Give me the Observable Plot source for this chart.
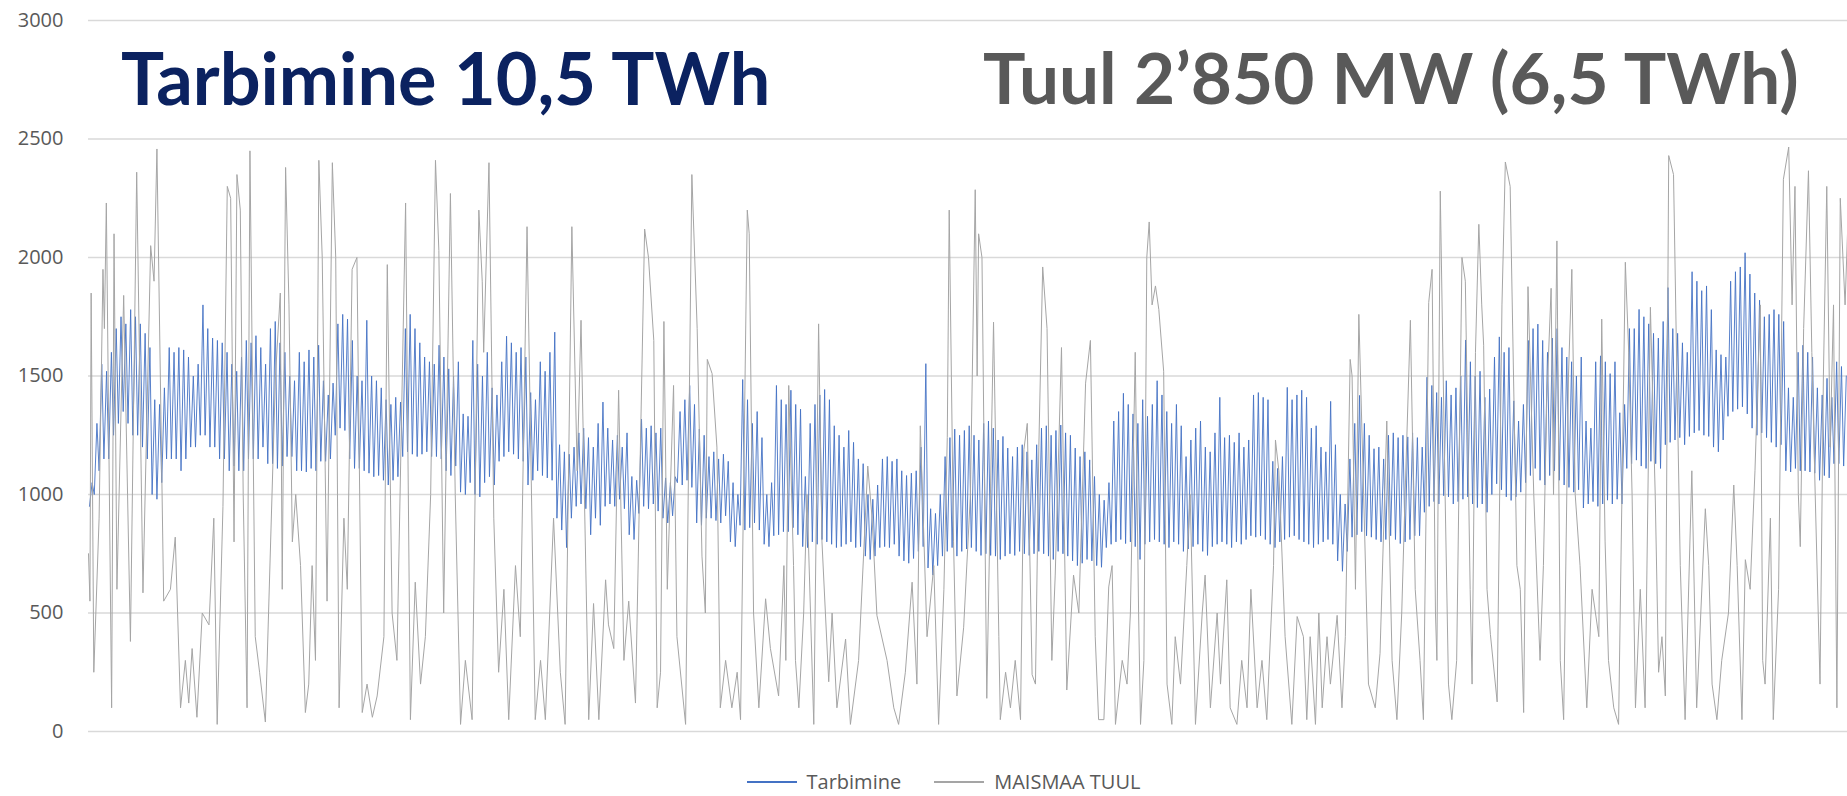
<!DOCTYPE html>
<html><head><meta charset="utf-8">
<script src="https://cdn.jsdelivr.net/npm/d3@7"></script>
<script src="https://cdn.jsdelivr.net/npm/@observablehq/plot@0.6"></script>
<style>
html,body{margin:0;padding:0;background:#fff;}
#wrap{position:relative;width:1847px;height:796px;overflow:hidden;font-family:"Open Sans",sans-serif;}
.title{position:absolute;font-family:Lato,sans-serif;font-weight:700;font-size:72px;white-space:nowrap;line-height:72px;}
#legend{position:absolute;left:0;top:768px;width:1847px;display:flex;justify-content:center;align-items:center;font-size:20px;color:#595959;padding-left:40px;box-sizing:border-box;}
.sw{display:inline-block;width:50px;height:0;border-top:2px solid;margin-right:10px;}
</style></head>
<body><div id="wrap"></div>
<script>
const yTicks = [0, 500, 1000, 1500, 2000, 2500, 3000];
const titleLeft = "Tarbimine 10,5 TWh";
const titleRight = "Tuul 2’850 MW (6,5 TWh)";
const seriesNames = ["Tarbimine", "MAISMAA TUUL"];

// Daily night minimum / day maximum of consumption, MW (day 0..364)
const consLow = [
950,1000,1100,1150,1150,1250,1300,1350,1300,1250,
1250,1200,1150,1000,980,1050,1150,1150,1150,1100,
1150,1200,1200,1250,1250,1200,1200,1150,1150,1100,
1120,1100,1100,1150,1150,1150,1200,1130,1130,1110,
1120,1160,1160,1100,1100,1095,1110,1100,1140,1140,
1150,1250,1280,1270,1150,1110,1110,1100,1090,1075,
1080,1060,1040,1060,1075,1160,1180,1170,1160,1170,
1180,1160,1160,1150,1100,1080,1120,1010,1000,1050,
1000,990,1050,1075,1040,1140,1160,1180,1170,1150,
1140,1040,1060,1100,1080,1070,1060,900,850,776,
900,950,960,940,830,900,870,950,960,950,
980,940,830,810,920,950,940,960,930,900,
880,910,1050,1040,1060,1030,880,870,900,900,
890,880,910,800,780,870,850,860,880,850,
790,780,826,830,843,843,860,830,780,776,
800,790,810,800,790,776,780,790,800,776,
780,740,726,740,776,780,776,790,740,720,
710,730,760,780,690,660,700,740,760,776,
740,760,770,776,760,743,750,743,740,726,
740,750,743,760,750,743,750,760,750,740,
726,760,750,740,720,700,710,726,720,700,
693,776,790,800,810,793,800,780,726,790,
800,810,800,790,776,800,790,760,770,780,
790,760,743,780,790,800,790,776,800,790,
810,826,820,826,810,790,776,800,810,820,
826,810,800,790,776,790,800,810,790,720,
676,760,820,830,843,826,820,810,800,810,
826,810,793,800,810,826,826,925,950,970,
960,995,990,960,970,980,990,960,945,960,
925,1000,1045,1020,990,975,990,1010,1050,1080,
1110,1060,1040,1080,1100,1060,1040,1030,1010,1020,
943,960,970,950,960,976,960,980,960,1110,
1130,1145,1120,1110,1140,1130,1110,1210,1220,1230,
1240,1210,1245,1260,1270,1250,1245,1200,1180,1230,
1330,1350,1360,1370,1340,1280,1250,1260,1240,1220,
1200,1210,1100,1095,1110,1100,1100,1095,1090,1060,
1080,1070,1130,1130,1120];
const consHigh = [
1050,1300,1550,1520,1600,1700,1750,1720,1780,1750,
1720,1680,1620,1400,1380,1450,1620,1600,1620,1610,
1580,1500,1550,1800,1700,1660,1650,1640,1600,1550,
1520,1580,1650,1640,1670,1620,1550,1700,1730,1640,
1600,1500,1480,1600,1560,1610,1580,1630,1480,1420,
1470,1720,1760,1740,1650,1500,1480,1735,1500,1480,
1450,1400,1380,1410,1390,1700,1760,1700,1640,1580,
1560,1550,1630,1580,1530,1500,1560,1340,1330,1650,
1550,1500,1600,1450,1420,1560,1668,1640,1600,1620,
1580,1430,1400,1560,1520,1600,1685,1210,1180,1170,
1200,1260,1280,1240,1200,1300,1390,1280,1230,1250,
1200,1260,1076,1060,1318,1280,1290,1260,1280,1070,
1050,1075,1350,1400,1460,1380,1276,1250,1160,1180,
1150,1170,1140,1050,1000,1485,1400,1300,1350,1240,
1000,1050,1460,1400,1380,1440,1380,1360,1076,1300,
1380,1420,1443,1400,1290,1250,1200,1270,1220,1150,
1130,1000,980,1040,1150,1160,1140,1150,1100,1080,
1090,1100,1200,1552,940,920,1000,1160,1240,1276,
1250,1270,1290,1250,1230,1300,1310,1280,1230,1245,
1196,1160,1200,1210,1180,1146,1210,1280,1290,1250,
1270,1293,1260,1250,1196,1160,1180,1146,1076,1000,
976,1050,1310,1350,1427,1380,1340,1300,1400,1330,
1380,1480,1420,1350,1300,1380,1290,1160,1230,1280,
1310,1200,1180,1260,1410,1240,1250,1220,1260,1200,
1230,1420,1430,1410,1400,1140,1110,1160,1452,1400,
1420,1440,1410,1280,1290,1200,1180,1393,1210,1000,
960,1150,1300,1418,1300,1250,1193,1200,1150,1250,
1260,1240,1250,1243,1260,1240,1200,1495,1460,1430,
1410,1480,1420,1450,1500,1652,1560,1500,1520,1410,
1445,1580,1665,1600,1620,1395,1310,1380,1650,1700,
1719,1650,1600,1660,1700,1620,1580,1560,1500,1580,
1310,1280,1560,1585,1560,1510,1560,1345,1380,1700,
1700,1781,1750,1720,1680,1660,1730,1873,1700,1680,
1640,1600,1940,1900,1860,1880,1780,1610,1590,1580,
1900,1940,1960,2020,1930,1850,1820,1750,1760,1780,
1760,1730,1450,1410,1600,1630,1600,1580,1450,1420,
1490,1410,1560,1540,1500];

// Onshore wind: turning points (day of year, MW)
const windDay = [0,0.3,0.55,1.1,2.2,3,3.3,3.7,4.8,5.3,5.9,7.3,8.7,10,11.3,12.9,13.6,14.2,15.6,17,18,19.1,20.1,20.8,21.5,22.5,23.6,25,26,26.7,27.9,28.8,29.5,30.2,30.8,31.5,32.1,32.9,33.5,34.6,35.5,36.7,38.8,39.8,40.2,40.9,41.6,42.3,43,44,45,45.7,46.4,47.1,47.8,48.5,49.5,50.6,51.3,52,53,53.7,54.7,55.7,56.8,57.8,58.9,59.9,61.3,62,63,64,65.8,66.8,67.8,68.9,69.9,71,72,72.7,73.7,75.1,76.1,77.2,78.2,79.6,81,81.7,82,83.1,84.1,85.1,86.2,87.2,88.6,89.6,91,92.7,93.8,94.8,96.5,97.9,98.9,100.3,101.4,102.2,103.8,104.8,105.9,107.3,107.9,109,110,111.1,112.1,113.5,115.4,116.2,117.3,118,118.7,119.4,120.1,121.4,122.1,123.9,125.2,126.3,127.3,128,128.4,129.4,130.4,131.1,132.2,133.5,134.6,135.3,136.7,137.1,138,139.1,140.5,141.5,143.2,144.3,144.7,145.3,146.3,146.7,147.4,148.4,149.1,150.5,151.5,152.2,153.6,154.3,155.3,157.1,158.1,159.8,161.7,162.6,163.6,165.7,167.1,168.1,169.5,170.9,171.9,172.6,174,175.4,176.4,177.5,178.2,178.6,179.5,180.2,181.6,183,184,184.4,184.7,185.4,186.4,187.8,188.9,189.2,190.3,191.3,192.3,193.4,194.1,194.8,195.8,196.5,197.2,198,198.9,199.9,200.6,201.9,203,204.4,205.5,206.9,207.9,208.9,209.6,210.7,211.7,212.4,213.1,214.5,215.5,216.2,217.2,217.9,218.3,219,219.6,220.1,220.7,221.4,222.1,223.1,223.8,224.8,225.5,226.6,227.9,228.6,229.7,231.1,231.7,232.8,234.2,234.9,236.2,236.9,238.3,239.3,240.4,241.2,242.5,243.5,244.5,245.9,246.3,247,248.3,249.7,250.8,252.1,252.8,253.5,254.6,255.3,256,257,257.7,259.1,260.1,260.8,261.8,262.2,262.9,263.6,264.6,265.6,267,268,269.4,270.5,271.5,272.5,273.2,274.3,275.3,276.3,277,278.1,278.8,279.5,279.8,280.5,281.5,282.2,282.9,283.9,285,285.7,286.7,287.1,287.8,288.5,289.1,289.5,290.2,290.9,292.3,293.3,294,295,295.7,296.4,297.1,297.8,298.7,299.9,301.2,301.9,302.6,303.5,304,304.7,305.4,306.1,307.1,307.8,308.5,309.5,310.9,312,312.7,313.4,314,314.7,315.4,316.5,317.5,318.9,319.6,320.3,321,322,323,324.1,325.1,325.8,326.5,327.2,327.9,328.9,329.6,330.3,331.3,332.7,333.7,335.5,336.2,336.9,337.9,338.9,340.3,341.4,342.1,343.1,343.8,344.8,345.8,346.9,347.4,347.9,349,349.6,350.7,351.7,352.8,353.5,354.1,354.8,355.2,355.9,356.9,357.6,358.3,359.3,360,360.7,361.4,362.1,362.8,363.5,364.5,365];
const windMW = [750,550,1850,250,900,1950,1700,2230,100,2100,600,1840,380,2360,585,2050,1900,2458,550,600,820,100,300,120,350,60,500,450,900,30,950,2300,2250,800,2350,2200,1000,100,2450,400,250,40,1500,1850,600,2380,1800,800,1000,700,80,200,700,300,2410,2000,550,2400,2000,100,900,600,1950,2000,80,200,60,150,400,1970,500,300,2230,50,630,200,400,1000,2410,2030,500,2270,1000,30,300,50,2200,1900,1600,2400,900,250,600,50,700,400,2130,50,300,50,900,250,30,2130,1100,1735,50,540,50,640,450,350,1440,300,550,120,2120,2000,1650,100,250,1730,600,1460,400,30,2350,1700,740,500,1570,1510,1200,100,300,100,250,50,2200,2100,500,100,560,350,150,700,300,1460,700,300,100,500,1000,30,1720,800,210,500,100,390,30,300,1120,900,490,300,100,30,250,630,200,1290,400,700,30,600,1240,2200,800,150,440,1000,2286,1500,2100,2000,140,1727,400,50,250,100,300,50,1190,1300,240,200,1200,1960,1700,300,660,1620,175,660,500,1470,1650,400,50,50,610,700,30,300,200,500,1600,500,30,300,2000,2150,1800,1880,1780,1520,200,30,400,200,700,1000,30,500,660,100,500,200,640,100,30,300,100,600,100,300,50,700,1230,1100,400,30,485,400,50,400,30,500,100,400,200,490,100,400,1570,1500,600,1760,1000,200,100,330,1310,300,50,500,1000,1735,600,300,50,1810,1950,500,300,2280,1000,200,50,300,2000,1900,600,200,1600,2140,1800,1630,600,410,125,1800,2403,2300,1500,700,600,80,1877,1000,300,700,1400,1870,1000,2070,300,50,1500,1950,1000,700,100,600,500,400,1740,800,300,100,30,1980,1600,1000,100,600,100,1790,1000,250,400,150,2430,2350,1500,700,50,1100,100,940,700,200,50,300,500,1040,700,50,725,600,1100,1800,300,200,900,50,600,2330,2466,1800,2300,1000,780,1700,2366,1600,1000,200,1500,2300,1200,1800,100,2250,1800,2100];

const cons = [];
consLow.forEach((lo, d) => {
  cons.push({t: d + 0.2, v: lo});
  cons.push({t: d + 0.75, v: consHigh[d]});
});
const wind = windDay.map((t, i) => ({t, v: windMW[i]}));

const wrap = document.getElementById("wrap");
const chart = Plot.plot({
  width: 1847, height: 745,
  marginTop: 20, marginBottom: 14, marginLeft: 88, marginRight: 0,
  style: {fontFamily: "'Open Sans', sans-serif", fontSize: "20px", color: "#595959", background: "#fff", overflow: "visible"},
  x: {domain: [0, 365], axis: null},
  y: {domain: [0, 3000], axis: null},
  marks: [
    Plot.gridY(yTicks, {stroke: "#D9D9D9", strokeOpacity: 1, strokeWidth: 1.5}),
    Plot.axisY(yTicks, {tickSize: 0, tickPadding: 25, fill: "#595959", label: null, tickFormat: d => String(d)}),
    Plot.line(cons, {x: "t", y: "v", stroke: "#4472C4", strokeWidth: 0.9}),
    Plot.line(wind, {x: "t", y: "v", stroke: "#A5A5A5", strokeWidth: 1})
  ]
});
chart.style.position = "absolute";
chart.style.left = "0px";
chart.style.top = "0px";
wrap.appendChild(chart);

const t1 = document.createElement("div");
t1.className = "title"; t1.textContent = titleLeft;
t1.style.left = "121px"; t1.style.top = "41px"; t1.style.color = "#0B2260";
wrap.appendChild(t1);
const t2 = document.createElement("div");
t2.className = "title"; t2.textContent = titleRight;
t2.style.left = "983px"; t2.style.top = "41px"; t2.style.color = "#595959";
t2.style.fontSize = "71px";
wrap.appendChild(t2);

const lg = document.createElement("div");
lg.id = "legend";
lg.innerHTML = `<span class="sw" style="border-color:#4472C4"></span><span style="margin-right:33px">${seriesNames[0]}</span><span class="sw" style="border-color:#A5A5A5"></span><span>${seriesNames[1]}</span>`;
wrap.appendChild(lg);
</script>
</body></html>
